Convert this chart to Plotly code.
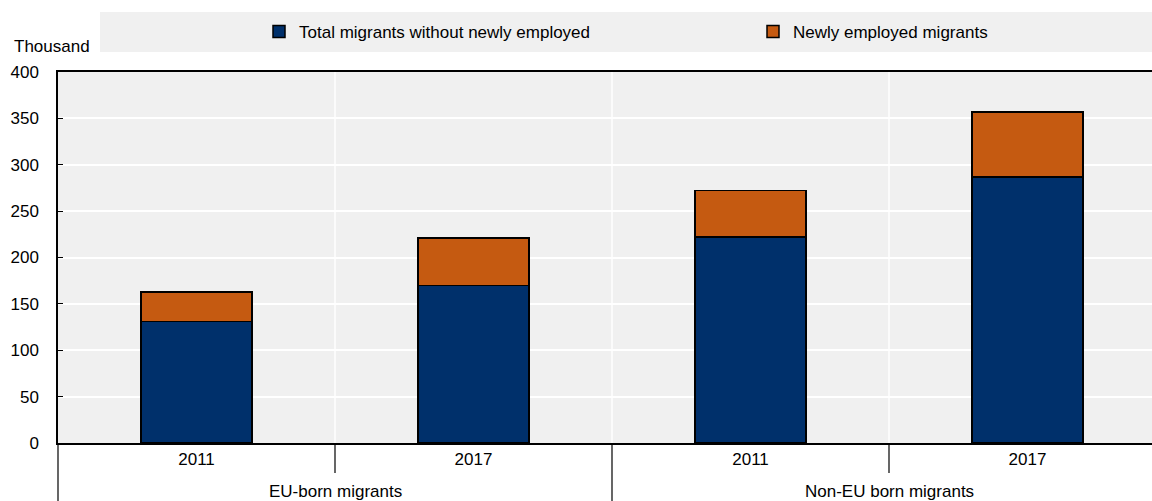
import plotly.graph_objects as go

groups = ["EU-born migrants", "Non-EU born migrants"]
years = ["2011", "2017", "2011", "2017"]
base_values = [131, 170, 222, 287]
new_values = [32, 51, 50, 70]
series_names = ["Total migrants without newly employed", "Newly employed migrants"]
yticks = [0, 50, 100, 150, 200, 250, 300, 350, 400]

FONT = "Liberation Sans, Arial"
FS = 17
BLUE = "#00306b"
ORANGE = "#c55a11"

SH = 501
PL, PR, PT, PB = 58, 1166, 72, 443  # plot area in screen px (right edge beyond window)
W, H = PR, SH
L, T, R, B = PL, PT, 0, SH - PB
pw, ph = PR - PL, PB - PT

x = list(range(len(years)))


def py(pix):
    return (PB - pix) / ph


def px(pix):
    return (pix - PL) / pw


fig = go.Figure()
fig.add_bar(x=x, y=base_values, name=series_names[0], legend="legend",
            marker=dict(color=BLUE, line=dict(color="black", width=1.5)), width=0.40)
fig.add_bar(x=x, y=new_values, name=series_names[1], legend="legend2",
            marker=dict(color=ORANGE, line=dict(color="black", width=1.5)), width=0.40)

shapes = []
shapes.append(dict(type="rect", xref="paper", yref="paper", x0=px(100), x1=1.0, y0=py(52), y1=py(12),
                   fillcolor="#f0f0f0", line=dict(width=0), layer="below"))
for b in [0.5, 1.5, 2.5]:
    shapes.append(dict(type="line", xref="x", yref="paper", x0=b, x1=b, y0=0, y1=1,
                       line=dict(color="white", width=1.5), layer="below"))
for b, depth in [(0.5, 30), (1.5, 60), (2.5, 30)]:
    shapes.append(dict(type="line", xref="x", yref="paper", x0=b, x1=b, y0=0, y1=py(PB + depth),
                       line=dict(color="black", width=1.2)))
shapes.append(dict(type="line", xref="paper", yref="paper", x0=0, x1=0, y0=0, y1=py(SH + 2),
                   line=dict(color="black", width=1.2)))

annotations = [
    dict(text="Thousand", xref="paper", yref="paper", x=px(12), y=py(46), xanchor="left", yanchor="middle",
         showarrow=False, font=dict(family=FONT, size=FS, color="black")),
]
for gi, g in enumerate(groups):
    annotations.append(dict(text=g, xref="x", yref="paper", x=gi * 2 + 0.5, y=py(491), xanchor="center",
                            yanchor="middle", showarrow=False, font=dict(family=FONT, size=FS, color="black")))

leg_common = dict(orientation="h", yanchor="middle", xanchor="left", bgcolor="rgba(0,0,0,0)",
                  font=dict(family=FONT, size=FS, color="black"))

fig.update_layout(
    width=W, height=H,
    margin=dict(l=L, r=R, t=T, b=B, pad=0, autoexpand=False),
    barmode="stack",
    plot_bgcolor="#f0f0f0",
    paper_bgcolor="white",
    font=dict(family=FONT, size=FS, color="black"),
    showlegend=True,
    legend=dict(x=px(259), y=py(32), **leg_common),
    legend2=dict(x=px(753), y=py(32), **leg_common),
    shapes=shapes,
    annotations=annotations,
)
fig.update_xaxes(range=[-0.5, 3.5], tickvals=x, ticktext=years, showgrid=False, zeroline=False,
                 showline=True, linecolor="black", linewidth=1.5, mirror=True, ticks="",
                 tickfont=dict(family=FONT, size=FS))
fig.update_yaxes(range=[0, 400], tickvals=yticks, showgrid=True, gridcolor="white", gridwidth=1.5,
                 zeroline=False, showline=True, linecolor="black", linewidth=1.5,
                 ticks="inside", ticklen=5, tickcolor="black", ticklabelstandoff=14,
                 tickfont=dict(family=FONT, size=FS))

fig.write_html(
    "out.html",
    config={"displayModeBar": False},
    post_script="document.body.style.margin='0';document.body.style.overflow='hidden';"
                "document.documentElement.style.overflow='hidden';",
)
